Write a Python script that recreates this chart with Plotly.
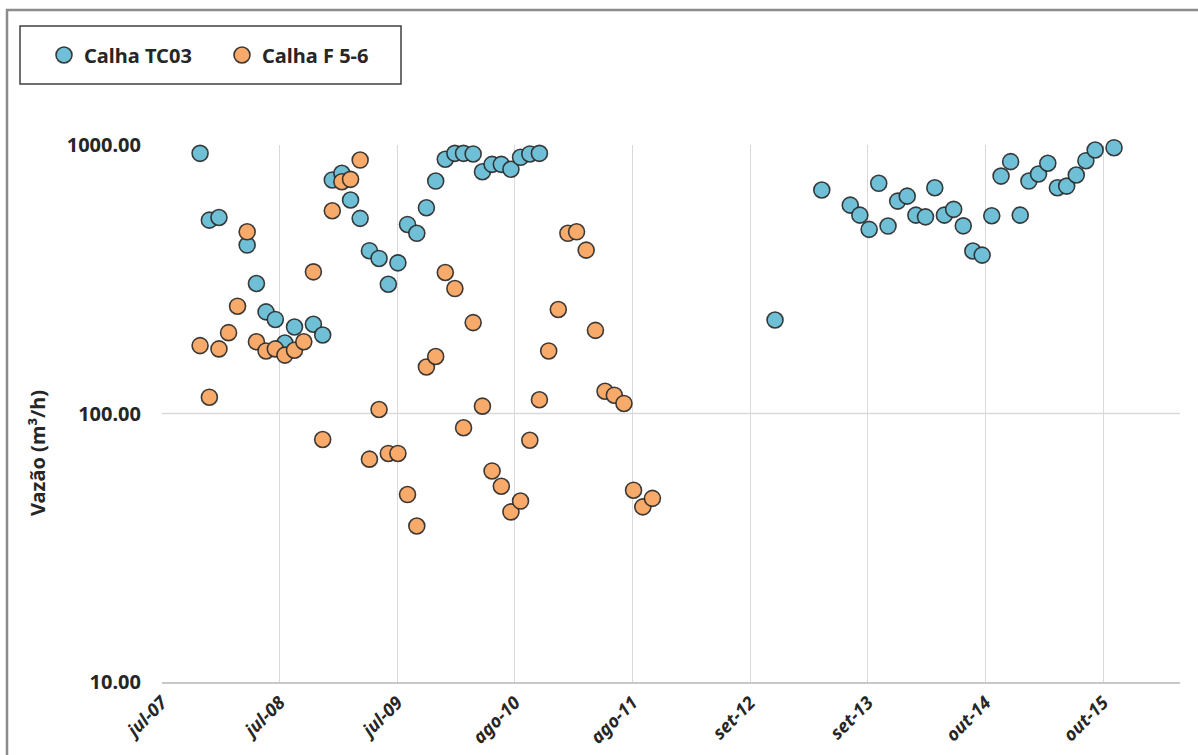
import datetime as dt
import plotly.graph_objects as go

# Monthly flow readings (m3/h) for the two flumes
tc03_dates = [
    "2007-11", "2007-12", "2008-01", "2008-04", "2008-05", "2008-06", "2008-07",
    "2008-08", "2008-09", "2008-11", "2008-12", "2009-01", "2009-02", "2009-03",
    "2009-04", "2009-05", "2009-06", "2009-07", "2009-08", "2009-09", "2009-10",
    "2009-11", "2009-12", "2010-01", "2010-02", "2010-03", "2010-04", "2010-05",
    "2010-06", "2010-07", "2010-08", "2010-09", "2010-10", "2010-11",
    "2012-12", "2013-05", "2013-08", "2013-09", "2013-10", "2013-11", "2013-12",
    "2014-01", "2014-02", "2014-03", "2014-04", "2014-05", "2014-06", "2014-07",
    "2014-08", "2014-09", "2014-10", "2014-11", "2014-12", "2015-01", "2015-02",
    "2015-03", "2015-04", "2015-05", "2015-06", "2015-07", "2015-08", "2015-09",
    "2015-10", "2015-12",
]
tc03_flow = [
    931, 525, 537, 424, 305, 239, 224,
    183, 210, 215, 196, 741, 785, 624,
    533, 404, 378, 303, 364, 506, 469,
    584, 734, 885, 931, 931, 926, 795,
    847, 847, 812, 900, 926, 931,
    223, 680, 597, 548, 485, 720, 499,
    618, 645, 548, 540, 693, 548, 576,
    500, 403, 389, 545, 766, 867, 548,
    734, 780, 855, 693, 703, 773, 874,
    958, 977,
]

f56_dates = [
    "2007-11", "2007-12", "2008-01", "2008-02", "2008-03", "2008-04", "2008-05",
    "2008-06", "2008-07", "2008-08", "2008-09", "2008-10", "2008-11", "2008-12",
    "2009-01", "2009-02", "2009-03", "2009-04", "2009-05", "2009-06", "2009-07",
    "2009-08", "2009-09", "2009-10", "2009-11", "2009-12", "2010-01", "2010-02",
    "2010-03", "2010-04", "2010-05", "2010-06", "2010-07", "2010-08", "2010-09",
    "2010-10", "2010-11", "2010-12", "2011-01", "2011-02", "2011-03", "2011-04",
    "2011-05", "2011-06", "2011-07", "2011-08", "2011-09", "2011-10", "2011-11",
]
f56_flow = [
    179, 115, 174, 200, 251, 475, 185,
    171, 174, 165, 172, 185, 337, 80,
    569, 730, 745, 879, 67.6, 103.5, 71,
    71, 49.9, 38.1, 149, 163, 335, 292,
    88.5, 218, 106.5, 61.1, 53.6, 43.0, 47.2,
    79.5, 112.5, 171, 244, 469, 475, 406,
    204, 121, 117, 109, 51.8, 44.9, 48.3,
]

# Date axis labels, one every 380 days starting in July 2007
x_tick_labels = ["jul-07", "jul-08", "jul-09", "ago-10", "ago-11",
                 "set-12", "set-13", "out-14", "out-15"]
y_tick_values = [10, 100, 1000]
y_tick_labels = ["10.00", "100.00", "1000.00"]

axis_start = dt.date(2007, 7, 1)
axis_end = dt.date(2016, 7, 1)
tick_step_days = 380
x_tick_values = [(axis_start + dt.timedelta(days=tick_step_days * k)).isoformat()
                 for k in range(len(x_tick_labels))]

W, H = 1198, 755
M_L, M_R, M_T, M_B = 162, 18, 145, 73
PLOT_W = W - M_L - M_R
PLOT_H = H - M_T - M_B


def px(x):
    """Pixel column -> paper x."""
    return (x - M_L) / PLOT_W


def py(y):
    """Pixel row -> paper y."""
    return (H - M_B - y) / PLOT_H


FONT = "Noto Sans"
TEXT = "#262626"
GRID = "#D9D9D9"
OUTLINE = "rgba(40,40,40,0.9)"

fig = go.Figure()
fig.add_trace(go.Scatter(
    x=tc03_dates, y=tc03_flow, mode="markers", name="Calha TC03",
    cliponaxis=False,
    marker=dict(size=16, color="#6FC0D6", line=dict(color=OUTLINE, width=1.6)),
))
fig.add_trace(go.Scatter(
    x=f56_dates, y=f56_flow, mode="markers", name="Calha F 5-6",
    cliponaxis=False,
    marker=dict(size=16, color="#F8AA6B", line=dict(color=OUTLINE, width=1.6)),
))

fig.update_layout(
    width=W, height=H,
    margin=dict(l=M_L, r=M_R, t=M_T, b=M_B, autoexpand=False),
    paper_bgcolor="white", plot_bgcolor="white",
    font=dict(family=FONT, color=TEXT),
    showlegend=True,
    legend=dict(
        orientation="h", x=px(44), y=py(55), xanchor="left", yanchor="middle",
        font=dict(family=FONT, size=20, color=TEXT, weight="bold"),
        bgcolor="rgba(0,0,0,0)", borderwidth=0,
        entrywidth=133, entrywidthmode="pixels",
    ),
    xaxis=dict(
        type="date", range=[axis_start.isoformat(), axis_end.isoformat()],
        tickmode="array", tickvals=x_tick_values, ticktext=x_tick_labels,
        tickangle=-45, ticks="", ticklabelstandoff=1, automargin=False,
        tickfont=dict(family=FONT, size=18, color=TEXT, weight="bold", style="italic"),
        showgrid=True, gridcolor=GRID, gridwidth=1,
        showline=True, linecolor="#C8C8C8", linewidth=2,
        zeroline=False,
    ),
    yaxis=dict(
        type="log", range=[1, 3],
        tickmode="array", tickvals=y_tick_values, ticktext=y_tick_labels,
        ticks="", ticklabelstandoff=20, automargin=False,
        tickfont=dict(family=FONT, size=20, color=TEXT, weight="bold"),
        showgrid=False, showline=False, zeroline=False,
    ),
    shapes=[
        # horizontal gridline at 100
        dict(type="line", xref="paper", yref="paper", x0=0, x1=1, y0=0.5, y1=0.5,
             line=dict(color=GRID, width=1.5), layer="below"),
        # legend frame
        dict(type="rect", xref="paper", yref="paper",
             x0=px(20), x1=px(401), y0=py(84), y1=py(26),
             line=dict(color="#404040", width=1.5)),
        # outer chart frame
        dict(type="rect", xref="paper", yref="paper",
             x0=px(7), x1=px(1260), y0=py(820), y1=py(10),
             line=dict(color="#8C8C8C", width=2.5)),
    ],
    annotations=[
        dict(text="Vazão (m³/h)", xref="paper", yref="paper",
             x=px(37), y=py(453), xanchor="center", yanchor="middle",
             textangle=-90, showarrow=False,
             font=dict(family=FONT, size=20, color=TEXT, weight="bold")),
    ],
)

fig.write_html("out.html")
